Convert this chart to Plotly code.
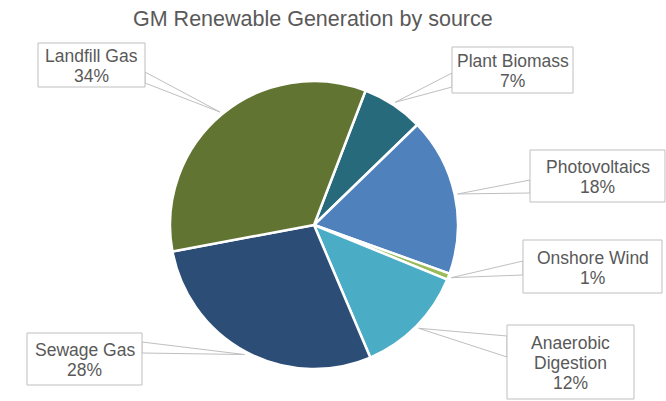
import math
import plotly.graph_objects as go

# ---- data ----
sources = ["Plant Biomass", "Photovoltaics", "Onshore Wind",
           "Anaerobic Digestion", "Sewage Gas", "Landfill Gas"]
shares = [6.9, 17.7, 0.7, 12.4, 28.4, 33.7]
label_lines = [["Plant Biomass"], ["Photovoltaics"], ["Onshore Wind"],
               ["Anaerobic", "Digestion"], ["Sewage Gas"], ["Landfill Gas"]]
colors = ["#276A7C", "#4F81BD", "#9BBB59", "#4BACC6", "#2C4D75", "#617431"]

# ---- layout geometry (pixels) ----
W, H = 666, 401
CX, CY, R = 314, 225, 144
ROT = 21
# box: left, top, right, bottom, side of wedge base, base y0, base y1
boxes = {
    "Plant Biomass":       (452, 47, 573, 93, "l", 73, 87),
    "Photovoltaics":       (530, 150, 665, 202, "l", 180, 193),
    "Onshore Wind":        (523, 240, 662, 293, "l", 261, 275),
    "Anaerobic Digestion": (507, 325, 634, 399, "l", 336, 357),
    "Sewage Gas":          (27, 333, 142, 385, "r", 342, 353),
    "Landfill Gas":        (38, 43, 145, 87, "r", 72, 83),
}
TXT = "#595959"
BORDER = "#BFBFBF"
FONT = "Arial, Liberation Sans, sans-serif"


def px(x):
    return x / W


def py(y):
    return 1 - y / H


fig = go.Figure(go.Pie(
    labels=sources, values=shares, sort=False, direction="clockwise",
    rotation=ROT, textinfo="none", hoverinfo="label+percent",
    marker=dict(colors=colors, line=dict(color="white", width=2.5)),
    domain=dict(x=[px(CX - R), px(CX + R)], y=[py(CY + R), py(CY - R)]),
    showlegend=False,
))

shapes = []
annotations = []
total = sum(shares)
cum = 0.0
for name, v, lines in zip(sources, shares, label_lines):
    mid = ROT + 360 * (cum + v / 2) / total
    cum += v
    a = math.radians(mid)
    tx = CX + (R + 3) * math.sin(a)
    ty = CY - (R + 3) * math.cos(a)
    l, t, r, b, side, b0, b1 = boxes[name]
    ex = l if side == "l" else r
    path = (f"M {px(ex)},{py(b0)} L {px(tx)},{py(ty)} L {px(ex)},{py(b1)} Z")
    shapes.append(dict(type="path", path=path, xref="paper", yref="paper",
                       fillcolor="white", line=dict(color=BORDER, width=1),
                       layer="above"))
    shapes.append(dict(type="rect", xref="paper", yref="paper",
                       x0=px(l), x1=px(r), y0=py(b), y1=py(t),
                       fillcolor="white", line=dict(color=BORDER, width=1),
                       layer="above"))
    pct = f"{round(100 * v / total)}%"
    all_lines = lines + [pct]
    n = len(all_lines)
    cy = (t + b) / 2 + 1
    for i, s in enumerate(all_lines):
        yy = cy + (i - (n - 1) / 2) * 20
        annotations.append(dict(text=s, x=px((l + r) / 2), y=py(yy),
                                xref="paper", yref="paper", showarrow=False,
                                xanchor="center", yanchor="middle",
                                font=dict(family=FONT, size=17.5, color=TXT)))

annotations.append(dict(text="GM Renewable Generation by source",
                        x=px(313), y=py(19), xref="paper", yref="paper",
                        showarrow=False, xanchor="center", yanchor="middle",
                        font=dict(family=FONT, size=21.5, color=TXT)))

fig.update_layout(width=W, height=H, margin=dict(l=0, r=0, t=0, b=0),
                  paper_bgcolor="white", plot_bgcolor="white",
                  shapes=shapes, annotations=annotations)
fig.write_html("out.html")
